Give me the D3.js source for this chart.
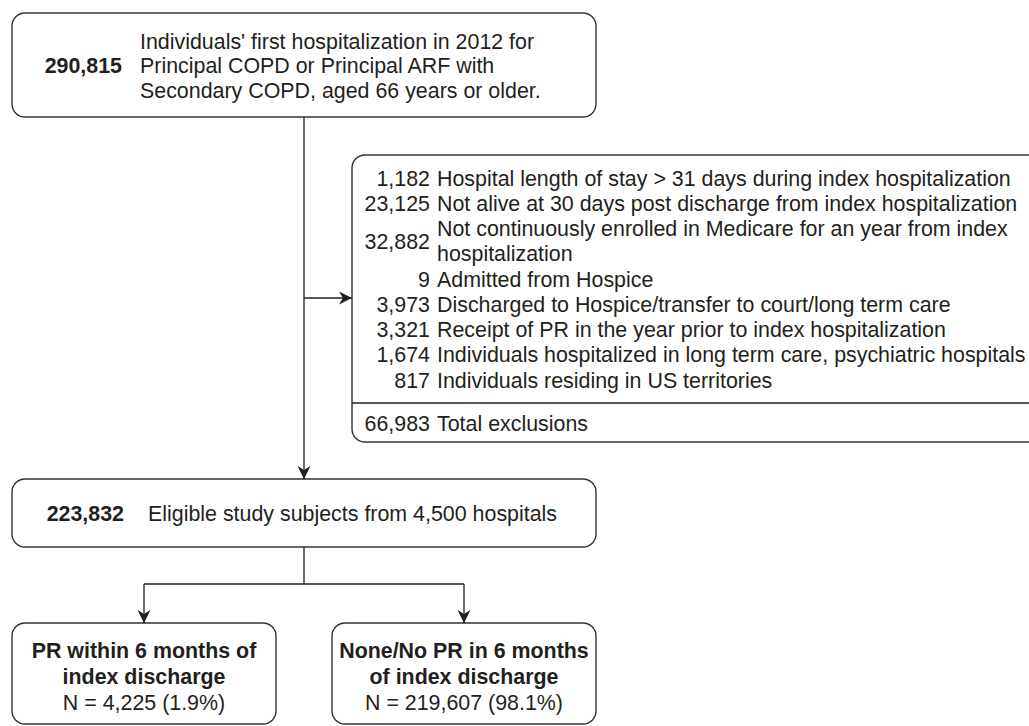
<!DOCTYPE html>
<html>
<head>
<meta charset="utf-8">
<script src="https://cdn.jsdelivr.net/npm/d3@7"></script>
<style>
  html, body { margin: 0; padding: 0; background: #fff; }
  svg { display: block; }
  text { font-family: "Liberation Sans", Arial, Helvetica, sans-serif; fill: #231f20; }
</style>
</head>
<body>
<svg id="chart" width="1029" height="726"></svg>
<script>
// ---------- data ----------
const startCount = "290,815";
const startLines = ["Individuals' first hospitalization in 2012 for",
                    "Principal COPD or Principal ARF with",
                    "Secondary COPD, aged 66 years or older."];

const exclusionCounts = ["1,182", "23,125", "32,882", "9", "3,973", "3,321", "1,674", "817"];
const exclusionLabels = [
  ["Hospital length of stay > 31 days during index hospitalization"],
  ["Not alive at 30 days post discharge from index hospitalization"],
  ["Not continuously enrolled in Medicare for an year from index", "hospitalization"],
  ["Admitted from Hospice"],
  ["Discharged to Hospice/transfer to court/long term care"],
  ["Receipt of PR in the year prior to index hospitalization"],
  ["Individuals hospitalized in long term care, psychiatric hospitals"],
  ["Individuals residing in US territories"]
];
const totalCount = "66,983";
const totalLabel = "Total exclusions";

const eligibleCount = "223,832";
const eligibleLabel = "Eligible study subjects from 4,500 hospitals";

const groupTitles = [["PR within 6 months of", "index discharge"],
                     ["None/No PR in 6 months", "of index discharge"]];
const groupN = ["N = 4,225 (1.9%)", "N = 219,607 (98.1%)"];

// ---------- drawing ----------
const svg = d3.select("#chart");
const FS = 21.4;
const stroke = "#333";

svg.append("defs").append("marker")
  .attr("id", "arrow").attr("viewBox", "0 0 10 10")
  .attr("refX", 10).attr("refY", 5)
  .attr("markerWidth", 13).attr("markerHeight", 13)
  .attr("markerUnits", "userSpaceOnUse")
  .attr("orient", "auto")
  .append("path").attr("d", "M0,0 L10,5 L0,10 L3,5 Z").attr("fill", "#231f20");

function box(x, y, w, h) {
  svg.append("rect").attr("x", x).attr("y", y).attr("width", w).attr("height", h)
    .attr("rx", 13).attr("ry", 13)
    .attr("fill", "none").attr("stroke", stroke).attr("stroke-width", 1.4);
}
function line(x1, y1, x2, y2, arrow) {
  const l = svg.append("line").attr("x1", x1).attr("y1", y1).attr("x2", x2).attr("y2", y2)
    .attr("stroke", "#231f20").attr("stroke-width", 1.3);
  if (arrow) l.attr("marker-end", "url(#arrow)");
}
function txt(x, y, s, opts = {}) {
  return svg.append("text").attr("x", x).attr("y", y).attr("dy", "0.36em")
    .attr("font-size", opts.size || FS)
    .attr("font-weight", opts.bold ? "bold" : "normal")
    .attr("text-anchor", opts.anchor || "start")
    .text(s);
}

// Layout
const colL = 12, colR = 596, colC = 304;

// Top box
box(colL, 13, colR - colL, 104);
const topY = d3.scaleLinear().domain([0, startLines.length - 1]).range([41, 90]);
txt(122, topY(1), startCount, { bold: true, anchor: "end" });
startLines.forEach((s, i) => txt(140, topY(i), s));

// Exclusion box
const exX = 352, exTop = 155, exBot = 442, divY = 403;
box(exX, exTop, 1100 - exX, exBot - exTop);
line(exX, divY, 1100, divY);

// flatten rows
const rows = [];
exclusionCounts.forEach((c, i) => {
  exclusionLabels[i].forEach((l, j) => rows.push({ label: l, idx: i, sub: j }));
});
const rowY = d3.scaleLinear().domain([0, rows.length - 1]).range([178, 380]);
const numX = 430, labX = 437;
rows.forEach((r, k) => txt(labX, rowY(k), r.label));
exclusionCounts.forEach((c, i) => {
  const ks = rows.map((r, k) => r.idx === i ? k : -1).filter(k => k >= 0);
  const y = d3.mean(ks.map(k => rowY(k)));
  txt(numX, y, c, { anchor: "end" });
});
txt(numX, 423, totalCount, { anchor: "end" });
txt(labX, 423, totalLabel);

// main vertical line with arrows
line(colC, 117, colC, 479, true);
line(colC, 298, exX, 298, true);

// Eligible box
box(colL, 479, colR - colL, 68);
txt(124, 513, eligibleCount, { bold: true, anchor: "end" });
txt(148, 513, eligibleLabel);

// split
const groupX = d3.scaleBand().domain([0, 1]).range([colL, colR]).paddingInner(0.175);
const splitY = 584, gTop = 623, gBot = 724;
line(colC, 547, colC, splitY);
const cx = [0, 1].map(i => groupX(i) + groupX.bandwidth() / 2);
line(cx[0], splitY, cx[1], splitY);
[0, 1].forEach(i => {
  line(cx[i], splitY, cx[i], gTop, true);
  box(groupX(i), gTop, groupX.bandwidth(), gBot - gTop);
  txt(cx[i], 650, groupTitles[i][0], { bold: true, anchor: "middle" });
  txt(cx[i], 676, groupTitles[i][1], { bold: true, anchor: "middle" });
  txt(cx[i], 702, groupN[i], { anchor: "middle" });
});
</script>
</body>
</html>
